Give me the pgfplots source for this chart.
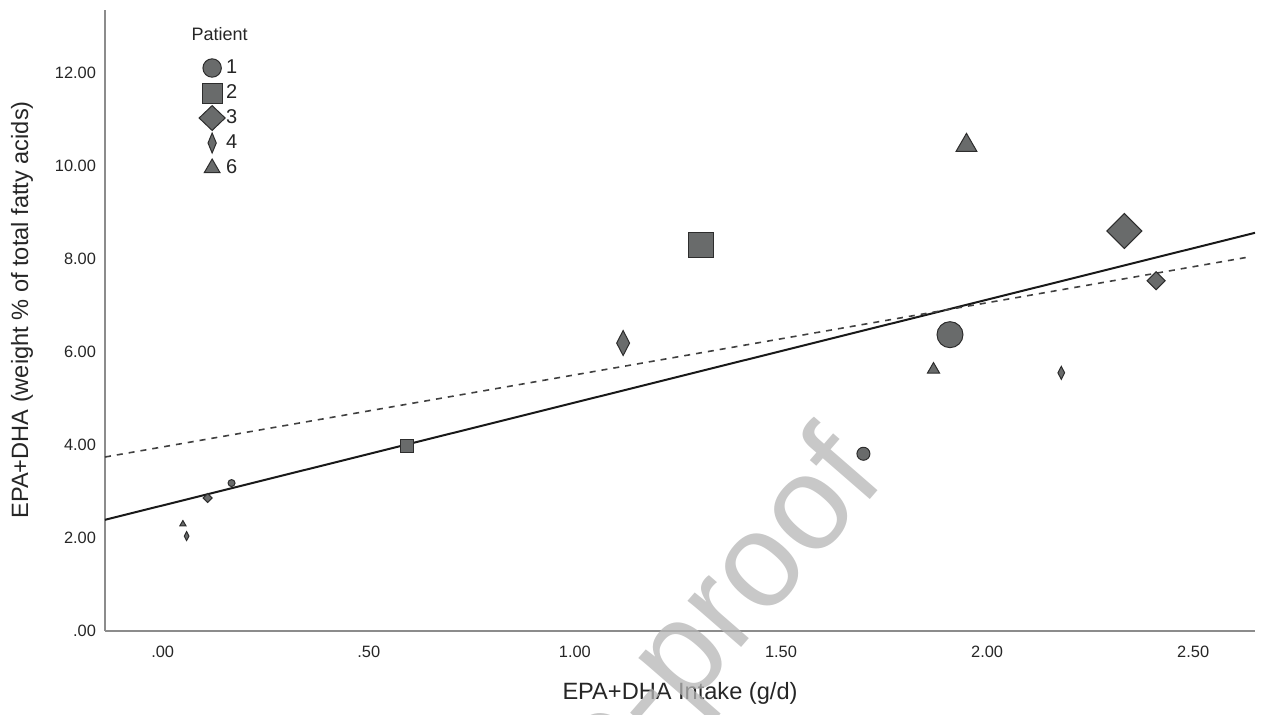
\documentclass[border=0pt]{standalone}
\usepackage{fontspec}
\setmainfont{Liberation Sans}
\usepackage{pgfplots}
\pgfplotsset{compat=1.18}
\definecolor{mkf}{RGB}{105,107,107}
\definecolor{mkd}{RGB}{45,45,45}
\definecolor{axgray}{RGB}{140,140,140}
\definecolor{wm}{RGB}{181,181,181}
\pgfplotsset{
  pts/.style={scatter, only marks, forget plot,
    scatter/use mapped color={draw=mkd, fill=mkf},
    visualization depends on={\thisrow{s} \as \ms},
    scatter/@pre marker code/.append style={/tikz/mark size=\ms},
    mark options={line width=0.5pt}},
  limg/.style={only marks, draw=mkd, fill=mkf, mark options={line width=0.5pt},
    legend image code/.code={\path[draw=none, fill=none] (-7pt,-6.25pt) rectangle (7pt,6.25pt); \draw[##1] plot coordinates {(0pt,0pt)};}},
}
\begin{document}
\begin{tikzpicture}
\begin{axis}[
  at={(0,0)}, anchor=south west, scale only axis,
  width=575pt, height=310.5pt,
  xmin=-0.14, xmax=2.65, ymin=0, ymax=13.35,
  axis x line=bottom, axis y line=left,
  axis line style={draw=axgray, line width=1pt, -},
  xtick={0,0.5,1,1.5,2,2.5},
  xticklabels={.00,.50,1.00,1.50,2.00,2.50},
  ytick={0,2,4,6,8,10,12},
  yticklabels={.00,2.00,4.00,6.00,8.00,10.00,12.00},
  major tick length=0pt,
  tick style={draw=none},
  ticklabel style={font=\fontsize{8.2}{9}\selectfont, text=black!85},
  xticklabel style={yshift=-4pt},
  yticklabel style={xshift=-1pt},
  xlabel={EPA+DHA Intake (g/d)},
  ylabel={EPA+DHA (weight \% of total fatty acids)},
  label style={font=\fontsize{11.8}{13}\selectfont, text=black!85},
  xlabel style={at={(axis description cs:0.5,-0.0998)}, anchor=center},
  ylabel style={at={(axis description cs:-0.0722,0.517)}, anchor=center},
  legend style={at={(axis cs:0.085,12.38)}, anchor=north west, draw=none, fill=none,
    font=\fontsize{10}{11}\selectfont, inner sep=0pt, row sep=0pt,
    nodes={inner sep=0pt, text=black!85}, column sep=0pt},
  legend cell align=left,
]
% regression lines
\addplot[black!90, line width=1pt, forget plot] coordinates {(-0.14,2.39) (2.65,8.56)};
\addplot[black!75, line width=0.8pt, dash pattern=on 3pt off 3pt, forget plot] coordinates {(-0.14,3.74) (2.635,8.04)};
% Patient 1
\addplot[pts, mark=*] table[x=x, y=y, meta=s] {
x y s
0.167 3.18 1.75
1.70 3.81 3.25
1.91 6.37 6.5
};
% Patient 2
\addplot[pts, mark=square*] table[x=x, y=y, meta=s] {
x y s
0.592 3.98 3.25
1.306 8.30 6.25
};
% Patient 3
\addplot[pts, mark=diamond*, mark options={xscale=1.333, line width=0.5pt}] table[x=x, y=y, meta=s] {
x y s
0.109 2.86 2.25
2.333 8.60 8.75
2.41 7.53 4.5
};
% Patient 4
\addplot[pts, mark=diamond*, mark options={xscale=0.69, line width=0.5pt}] table[x=x, y=y, meta=s] {
x y s
0.058 2.04 2.25
1.117 6.19 6.25
2.18 5.55 3.25
};
% Patient 6
\addplot[pts, mark=triangle*] table[x=x, y=y, meta=s] {
x y s
0.049 2.30 1.75
1.87 5.62 3.5
1.95 10.44 6
};
\addlegendimage{limg, mark=*, mark size=4.6pt}
\addlegendentry{1}
\addlegendimage{limg, mark=square*, mark size=5pt}
\addlegendentry{2}
\addlegendimage{limg, mark=diamond*, mark size=6.2pt, mark options={xscale=1.4, line width=0.5pt}}
\addlegendentry{3}
\addlegendimage{limg, mark=diamond*, mark size=5pt, mark options={xscale=0.55, line width=0.5pt}}
\addlegendentry{4}
\addlegendimage{limg, mark=triangle*, mark size=4.5pt}
\addlegendentry{6}
\node[font=\fontsize{9}{10}\selectfont, text=black!85] at (axis cs:0.138,12.84) {Patient};
\end{axis}
\node[font=\fontsize{67}{67}\selectfont, text=wm, text opacity=0.75, rotate=49, anchor=base east] at (393.5pt,78pt) {Journal Pre-proof};
\pgfresetboundingbox
\useasboundingbox (-52.5pt,-42pt) rectangle (578pt,315.5pt);
\end{tikzpicture}
\end{document}
